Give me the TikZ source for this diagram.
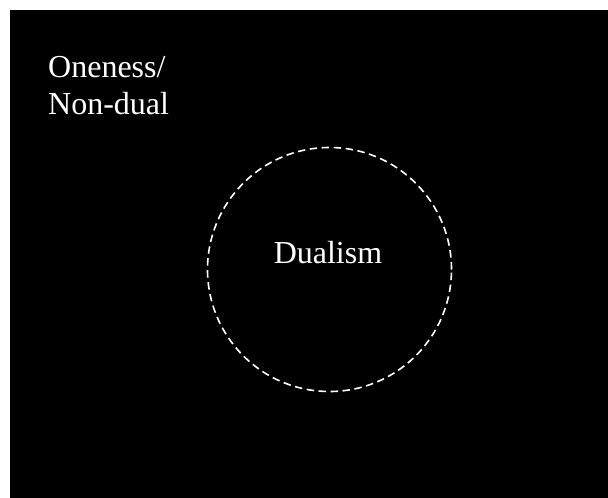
\documentclass[tikz,border=0pt]{standalone}
\usepackage{fontspec}
\setmainfont{Liberation Serif}
\begin{document}
\begin{tikzpicture}[x=1pt,y=-1pt,
  lbl/.style={text=white,font=\fontsize{32}{37}\selectfont,inner sep=0pt},
  ring/.style={draw=white,line width=1.6pt,dash pattern=on 7.5pt off 4.5pt}]
\useasboundingbox (0,0) rectangle (608,498);
\fill[white] (0,0) rectangle (608,498);
\fill[black] (10,10) rectangle (608,498);
\node[ring,circle,minimum size=244pt,inner sep=0pt] (c) at (329.5,269.5) {};
\node[lbl,anchor=base] (d) at (328,263) {Dualism};
\node[lbl,anchor=base west] (o1) at (48,77) {Oneness/};
\node[lbl,anchor=base west] (o2) at (48,114) {Non-dual};
\end{tikzpicture}
\end{document}
